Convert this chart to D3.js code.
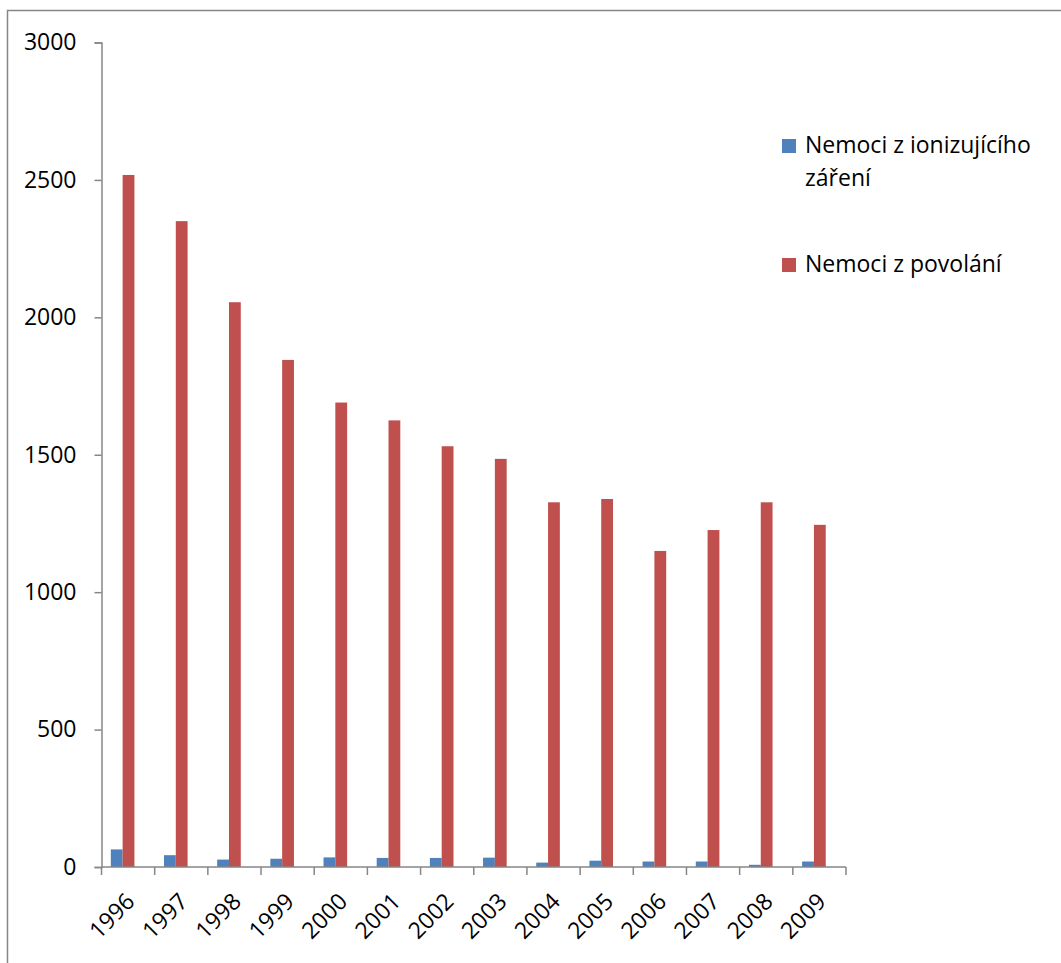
<!DOCTYPE html>
<html><head><meta charset="utf-8">
<script src="https://cdn.jsdelivr.net/npm/d3@7"></script>
<style>body{margin:0;background:#fff;} svg{display:block;}</style>
</head><body>
<script>
const years = ["1996","1997","1998","1999","2000","2001","2002","2003","2004","2005","2006","2007","2008","2009"];
const ionizing = [64, 43, 27, 30, 35, 33, 33, 34, 16, 23, 20, 20, 8, 20];
const occupational = [2518, 2350, 2055, 1845, 1690, 1625, 1531, 1485, 1327, 1339, 1150, 1226, 1327, 1245];
const yTicks = [0, 500, 1000, 1500, 2000, 2500, 3000];
const seriesNames = ["Nemoci z ionizujícího záření", "Nemoci z povolání"];
const colors = ["#4F81BD", "#C0504D"];

const W = 1061, H = 963;
const font = "'Open Sans', sans-serif";
const fs = 23;
const svg = d3.select("body").append("svg").attr("width", W).attr("height", H);

svg.append("rect").attr("x", 7.5).attr("y", 10.5).attr("width", W + 10).attr("height", H + 10)
  .attr("fill", "none").attr("stroke", "#868686").attr("stroke-width", 1.5);

const y = d3.scaleLinear().domain([0, 3000]).range([867, 42.5]);
const x = d3.scaleBand().domain(years).range([101.5, 846]);
const bw = x.bandwidth();

const gy = svg.append("g").attr("transform", "translate(101.5,0)")
  .call(d3.axisLeft(y).tickValues(yTicks).tickSize(7).tickPadding(18).tickFormat(d3.format("d")));
gy.select(".domain").attr("stroke", "#868686").attr("stroke-width", 1.5);
gy.selectAll(".tick line").attr("stroke", "#868686").attr("stroke-width", 1.5);
gy.selectAll("text").attr("font-family", font).attr("font-size", fs).attr("fill", "#000");

// bars
const barW = bw * 0.222;
const off = bw * 0.175;
svg.append("g").selectAll("rect").data(ionizing).join("rect")
  .attr("x", (d, i) => x(years[i]) + off).attr("width", barW)
  .attr("y", d => y(d)).attr("height", d => y(0) - y(d)).attr("fill", colors[0]);
svg.append("g").selectAll("rect").data(occupational).join("rect")
  .attr("x", (d, i) => x(years[i]) + off + barW).attr("width", barW)
  .attr("y", d => y(d)).attr("height", d => y(0) - y(d)).attr("fill", colors[1]);

// x axis
const gx = svg.append("g").attr("transform", "translate(0,867)");
gx.append("line").attr("x1", 101.5).attr("x2", 846).attr("stroke", "#868686").attr("stroke-width", 1.5);
const bounds = years.map(d => x(d)).concat([x(years[years.length - 1]) + bw]);
gx.selectAll("line.t").data(bounds).join("line").attr("class", "t")
  .attr("x1", d => d).attr("x2", d => d).attr("y1", 0).attr("y2", 8)
  .attr("stroke", "#868686").attr("stroke-width", 1.5);
gx.selectAll("text").data(years).join("text")
  .attr("transform", d => `translate(${x(d) + bw * 0.5 + 8},${36}) rotate(-45)`)
  .attr("text-anchor", "end").attr("font-family", font).attr("font-size", fs).attr("fill", "#000")
  .text(d => d);

// legend
const leg = svg.append("g");
leg.append("rect").attr("x", 782).attr("y", 139).attr("width", 14).attr("height", 14).attr("fill", colors[0]);
leg.append("text").attr("x", 805).attr("y", 153).attr("font-family", font).attr("font-size", fs).attr("fill", "#000")
  .text("Nemoci z ionizujícího");
leg.append("text").attr("x", 805).attr("y", 186).attr("font-family", font).attr("font-size", fs).attr("fill", "#000")
  .text("záření");
leg.append("rect").attr("x", 782).attr("y", 258).attr("width", 14).attr("height", 14).attr("fill", colors[1]);
leg.append("text").attr("x", 805).attr("y", 272).attr("font-family", font).attr("font-size", fs).attr("fill", "#000")
  .text(seriesNames[1]);
</script>
</body></html>
